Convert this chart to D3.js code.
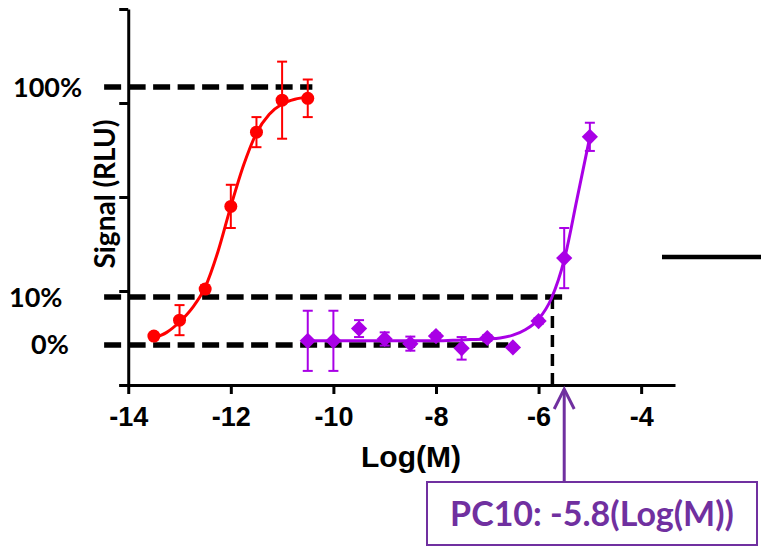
<!DOCTYPE html>
<html>
<head>
<meta charset="utf-8">
<style>
body { margin: 0; background: #ffffff; }
.tick text { font-family: "Liberation Sans", Arial, sans-serif; font-weight: bold; font-size: 27px; fill: #000; }
.lbl { font-family: Lato, "Open Sans", sans-serif; font-weight: bold; fill: #000; }
</style>
</head>
<body>
<div id="chart"></div>
<script src="https://cdn.jsdelivr.net/npm/d3@7"></script>
<script>
// x ticks (log molar)
var xTicks = [-14, -12, -10, -8, -6, -4];

// red series: mean and error (axis units)
var redX   = [-13.5, -13, -12.5, -12, -11.5, -11, -10.5];
var redY   = [0.52, 0.69, 1.02, 1.90, 2.69, 3.03, 3.05];
var redErr = [0.03, 0.16, 0.04, 0.23, 0.16, 0.41, 0.20];

// purple series
var purX   = [-10.5, -10, -9.5, -9, -8.5, -8, -7.5, -7, -6.5, -6, -5.5, -5];
var purY   = [0.47, 0.47, 0.60, 0.49, 0.44, 0.52, 0.39, 0.50, 0.40, 0.68, 1.35, 2.64];
var purErr = [0.32, 0.32, 0.09, 0.07, 0.075, 0.03, 0.12, 0.03, 0.02, 0.03, 0.32, 0.15];

// fitted curves
var redFitX = [-13.5, -13.25, -13, -12.75, -12.5, -12.25, -12, -11.75, -11.5, -11.25, -11, -10.75, -10.5];
var redFitY = [0.50, 0.56, 0.67, 0.82, 1.04, 1.42, 1.90, 2.34, 2.68, 2.88, 2.99, 3.04, 3.06];
var purFitX = [-10.5, -9, -8, -7.5, -7, -6.75, -6.5, -6.25, -6, -5.75, -5.5, -5.25, -5];
var purFitY = [0.47, 0.47, 0.47, 0.48, 0.49, 0.50, 0.53, 0.59, 0.70, 0.92, 1.33, 1.98, 2.64];

// reference levels
var refLabels = ["100%", "10%", "0%"];
var refY      = [3.17, 0.936, 0.426];
var refXEnd   = [-10.41, -5.42, -6.59];

var pc10X = -5.73;
var pc10Text = "PC10: -5.8(Log(M))";

var W = 761, H = 548;

var svg = d3.select("#chart").append("svg")
    .attr("width", W)
    .attr("height", H);

var x = d3.scaleLinear().domain([-14.18, -3.34]).range([119, 675]);
var y = d3.scaleLinear().domain([0, 4]).range([385, 9]);

var red = "#ff0000", purple = "#a900e6", boxCol = "#7030a0";

// reference dashed lines
refY.forEach(function(v, i) {
  svg.append("line")
    .attr("x1", x(-14.47)).attr("x2", x(refXEnd[i]))
    .attr("y1", y(v)).attr("y2", y(v))
    .attr("stroke", "#000").attr("stroke-width", 5.5)
    .attr("stroke-dasharray", "17,7.5");
});
var refLabX = [13, 9, 31];
refLabels.forEach(function(t, i) {
  svg.append("text").attr("class", "lbl")
    .attr("x", refLabX[i]).attr("y", y(refY[i]) + 9.5)
    .style("font-size", "27px")
    .text(t);
});

// vertical dashed line at PC10
svg.append("line")
  .attr("x1", x(pc10X)).attr("x2", x(pc10X))
  .attr("y1", y(refY[1])).attr("y2", y(0))
  .attr("stroke", "#000").attr("stroke-width", 3.5)
  .attr("stroke-dasharray", "12,7");

// axes
svg.append("g")
  .attr("transform", "translate(" + x(-14) + ",0)")
  .call(d3.axisLeft(y).tickValues([0, 1, 2, 3, 4]).tickSize(9).tickSizeOuter(0).tickFormat(""));
svg.append("g")
  .attr("transform", "translate(0," + y(0) + ")")
  .call(d3.axisBottom(x).tickValues(xTicks).tickSize(9).tickSizeOuter(0).tickPadding(13)
    .tickFormat(function(d) { return String(d); }));
svg.selectAll(".domain, .tick line").attr("stroke", "#000").attr("stroke-width", 3);

svg.append("text").attr("class", "lbl")
  .attr("transform", "translate(115," + 194 + ") rotate(-90)")
  .attr("text-anchor", "middle")
  .style("font-size", "28px")
  .text("Signal (RLU)");
svg.append("text")
  .attr("x", 411).attr("y", 467)
  .attr("text-anchor", "middle")
  .style("font-family", "'Liberation Sans', Arial, sans-serif")
  .style("font-weight", "bold").style("font-size", "30px")
  .text("Log(M)");

// curves
var line = d3.line()
  .x(function(d) { return x(d[0]); })
  .y(function(d) { return y(d[1]); })
  .curve(d3.curveMonotoneX);

svg.append("path")
  .attr("d", line(d3.zip(redFitX, redFitY)))
  .attr("fill", "none").attr("stroke", red).attr("stroke-width", 3);
svg.append("path")
  .attr("d", line(d3.zip(purFitX, purFitY)))
  .attr("fill", "none").attr("stroke", purple).attr("stroke-width", 3);

// error bars
function errBars(xs, ys, es, col) {
  var g = svg.append("g").attr("stroke", col).attr("stroke-width", 2);
  xs.forEach(function(xv, i) {
    var cx = x(xv), top = y(ys[i] + es[i]), bot = y(ys[i] - es[i]);
    g.append("line").attr("x1", cx).attr("x2", cx).attr("y1", top).attr("y2", bot);
    g.append("line").attr("x1", cx - 5).attr("x2", cx + 5).attr("y1", top).attr("y2", top);
    g.append("line").attr("x1", cx - 5).attr("x2", cx + 5).attr("y1", bot).attr("y2", bot);
  });
}
errBars(redX, redY, redErr, red);
errBars(purX, purY, purErr, purple);

// markers
svg.selectAll(".redPt").data(d3.zip(redX, redY)).enter()
  .append("circle")
  .attr("cx", function(d) { return x(d[0]); })
  .attr("cy", function(d) { return y(d[1]); })
  .attr("r", 6.5)
  .attr("fill", red);
svg.selectAll(".purPt").data(d3.zip(purX, purY)).enter()
  .append("path")
  .attr("d", d3.symbol().type(d3.symbolSquare).size(132))
  .attr("transform", function(d) { return "translate(" + x(d[0]) + "," + y(d[1]) + ") rotate(45)"; })
  .attr("fill", purple);

// stray legend line at right
svg.append("line")
  .attr("x1", 662).attr("x2", W)
  .attr("y1", 257).attr("y2", 257)
  .attr("stroke", "#000").attr("stroke-width", 4.5);

// PC10 arrow + box
var ax = x(-5.5);
svg.append("line")
  .attr("x1", ax).attr("x2", ax).attr("y1", 482).attr("y2", 389)
  .attr("stroke", boxCol).attr("stroke-width", 3);
svg.append("path")
  .attr("d", "M" + (ax - 10) + ",409L" + ax + ",389L" + (ax + 10) + ",409")
  .attr("fill", "none").attr("stroke", boxCol).attr("stroke-width", 3);
svg.append("rect")
  .attr("x", 427).attr("y", 482).attr("width", 330).attr("height", 63)
  .attr("fill", "#fff").attr("stroke", boxCol).attr("stroke-width", 2);
svg.append("text").attr("class", "lbl")
  .attr("x", 592).attr("y", 526)
  .attr("text-anchor", "middle")
  .style("font-size", "34px").style("fill", boxCol)
  .text(pc10Text);
</script>
</body>
</html>
